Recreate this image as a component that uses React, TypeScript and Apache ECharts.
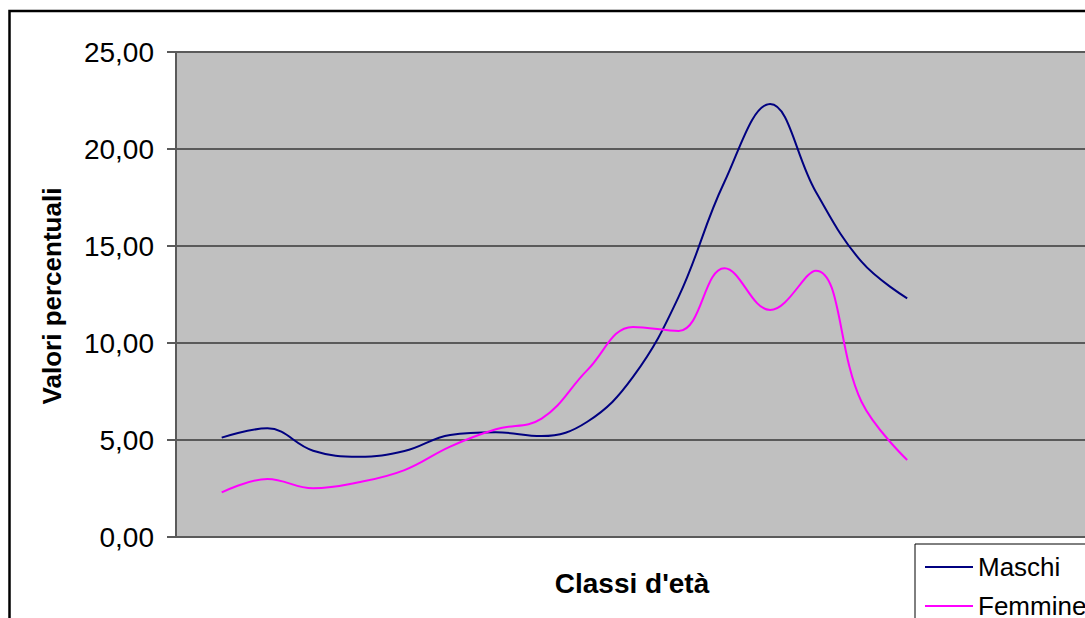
import React, { useEffect, useRef } from "react";
import * as echarts from "echarts";

// Age classes (axis labels are not displayed on the chart)
const ageClasses = [
  "0-4", "5-9", "10-14", "15-19", "20-24", "25-29", "30-34", "35-39",
  "40-44", "45-49", "50-54", "55-59", "60-64", "65-69", "70-74", "75+",
];

// Percentage values per age class
const maschi = [
  5.12, 5.6, 4.45, 4.14, 4.43, 5.26, 5.4, 5.2,
  5.94, 8.25, 12.39, 18.3, 22.32, 17.8, 14.19, 12.3,
];
const femmine = [
  2.3, 2.99, 2.51, 2.82, 3.45, 4.66, 5.55, 6.1,
  8.6, 10.83, 10.62, 13.85, 11.7, 13.73, 6.97, 3.97,
];

const yTicks = [0, 5, 10, 15, 20, 25];

const FONT = "'Liberation Sans', Arial, sans-serif";
const GRAY = "#5a5a5a";

const toPoints = (values: number[]) =>
  values.map((v, i) => ({ name: ageClasses[i], value: [i + 1, v] }));

export default function App() {
  const ref = useRef<HTMLDivElement>(null);

  useEffect(() => {
    if (!ref.current) return;
    const chart = echarts.init(ref.current, null, { renderer: "svg" });
    chart.setOption({
      animation: false,
      backgroundColor: "#ffffff",
      grid: {
        left: 176,
        top: 52,
        width: 914,
        height: 485,
        show: true,
        backgroundColor: "#c0c0c0",
        borderWidth: 0,
      },
      xAxis: {
        type: "value",
        min: 0,
        max: 20,
        interval: 1,
        axisLine: { show: true, lineStyle: { color: GRAY, width: 2 } },
        axisTick: { show: false },
        axisLabel: { show: false },
        splitLine: { show: false },
      },
      yAxis: {
        type: "value",
        min: yTicks[0],
        max: yTicks[yTicks.length - 1],
        interval: 5,
        axisLine: { show: true, lineStyle: { color: GRAY, width: 2 } },
        axisTick: { show: true, length: 9, lineStyle: { color: GRAY, width: 2 } },
        axisLabel: {
          margin: 22,
          color: "#000",
          fontFamily: FONT,
          fontSize: 28,
          formatter: (v: number) => v.toFixed(2).replace(".", ","),
        },
        splitLine: { show: true, lineStyle: { color: GRAY, width: 2 } },
      },
      legend: {
        orient: "vertical",
        left: 915,
        top: 544,
        padding: [10, 30, 10, 10],
        icon: "rect",
        itemWidth: 48,
        itemHeight: 2,
        itemGap: 13,
        borderColor: "#000",
        borderWidth: 1,
        backgroundColor: "#ffffff",
        textStyle: { fontFamily: FONT, fontSize: 26, color: "#000", lineHeight: 26 },
        data: ["Maschi", "Femmine"],
      },
      graphic: [
        {
          type: "rect",
          shape: { x: 9.5, y: 11, width: 1200, height: 800 },
          style: { fill: "none", stroke: "#000", lineWidth: 2.5 },
          z: 100,
          silent: true,
        },
        {
          type: "text",
          x: 52,
          y: 296,
          rotation: Math.PI / 2,
          style: {
            text: "Valori percentuali",
            font: `bold 26px ${FONT}`,
            fill: "#000",
            align: "center",
            verticalAlign: "middle",
          },
        },
        {
          type: "text",
          x: 632,
          y: 583,
          style: {
            text: "Classi d'età",
            font: `bold 28px ${FONT}`,
            fill: "#000",
            align: "center",
            verticalAlign: "middle",
          },
        },
      ],
      series: [
        {
          name: "Maschi",
          type: "line",
          data: toPoints(maschi),
          smooth: 0.4,
          symbol: "none",
          lineStyle: { color: "#000080", width: 2 },
          itemStyle: { color: "#000080" },
        },
        {
          name: "Femmine",
          type: "line",
          data: toPoints(femmine),
          smooth: 0.4,
          symbol: "none",
          lineStyle: { color: "#ff00ff", width: 2 },
          itemStyle: { color: "#ff00ff" },
        },
      ],
    });
    return () => chart.dispose();
  }, []);

  return (
    <div
      style={{
        position: "fixed",
        left: 0,
        top: 0,
        width: 1085,
        height: 618,
        overflow: "hidden",
        background: "#fff",
      }}
    >
      <div ref={ref} style={{ width: 1120, height: 660 }} />
    </div>
  );
}
